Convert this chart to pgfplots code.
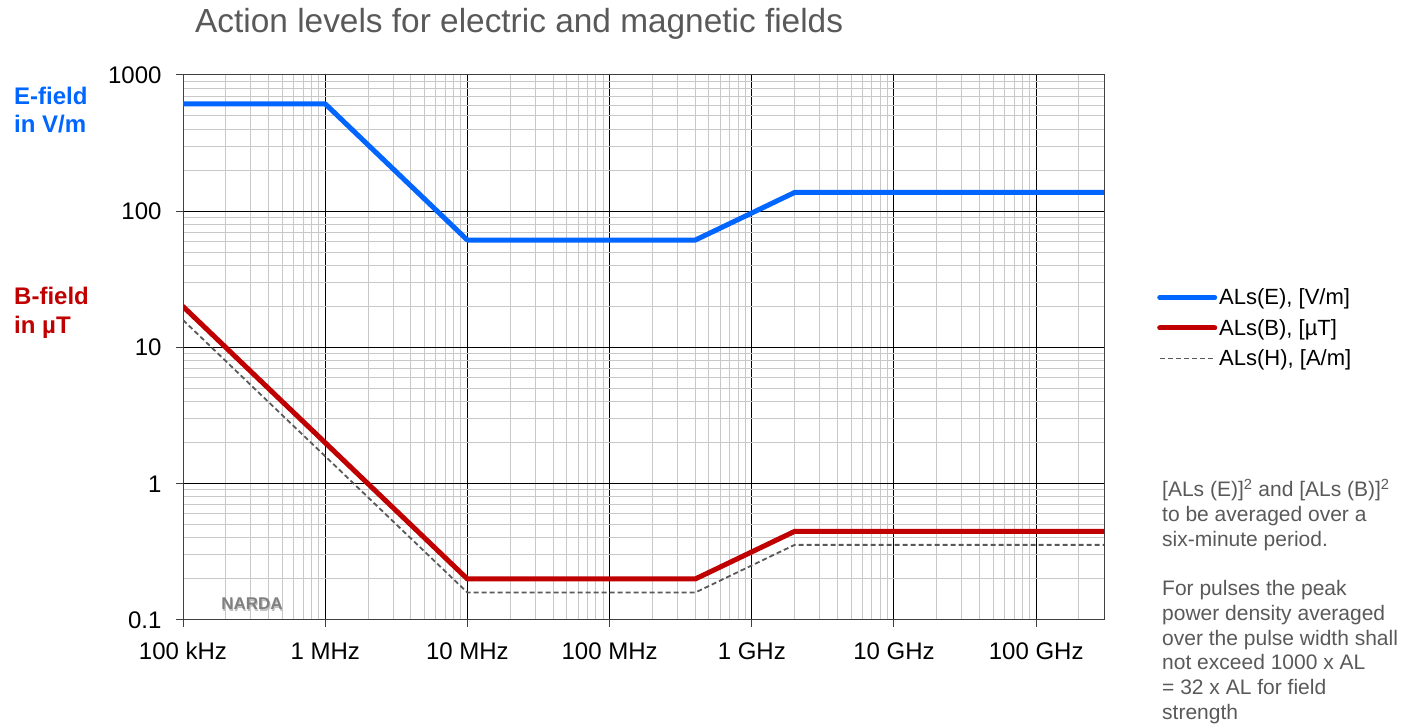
\documentclass[border=0pt]{standalone}
\usepackage{pgfplots}
\pgfplotsset{compat=1.18}
\usepackage{fontspec}
\setmainfont{Liberation Sans}
\definecolor{eblue}{RGB}{0,102,255}
\definecolor{bred}{RGB}{192,0,0}
\definecolor{txtgray}{RGB}{89,89,89}
\definecolor{mgrid}{RGB}{200,200,200}
\begin{document}
\begin{tikzpicture}[x=1bp,y=1bp]
\useasboundingbox (0,0) rectangle (1401,723);
\begin{axis}[
  at={(183bp,103bp)}, anchor=south west, scale only axis,
  width=921bp, height=545bp,
  xmode=log, ymode=log, xmin=1e5, xmax=3e11, ymin=0.1, ymax=1000,
  xtick={1e5,1e6,1e7,1e8,1e9,1e10,1e11},
  xticklabels={100 kHz,1 MHz,10 MHz,100 MHz,1 GHz,10 GHz,100 GHz},
  ytick={0.1,1,10,100,1000},
  yticklabels={0.1,1,10,100,1000},
  minor xtick={2e5,3e5,4e5,5e5,6e5,7e5,8e5,9e5,2e6,3e6,4e6,5e6,6e6,7e6,8e6,9e6,2e7,3e7,4e7,5e7,6e7,7e7,8e7,9e7,2e8,3e8,4e8,5e8,6e8,7e8,8e8,9e8,2e9,3e9,4e9,5e9,6e9,7e9,8e9,9e9,2e10,3e10,4e10,5e10,6e10,7e10,8e10,9e10,2e11},
  minor ytick={0.2,0.3,0.4,0.5,0.6,0.7,0.8,0.9,2,3,4,5,6,7,8,9,20,30,40,50,60,70,80,90,200,300,400,500,600,700,800,900},
  grid=both,
  major grid style={black, line width=1bp},
  minor grid style={mgrid, line width=1bp},
  tick align=outside, tick pos=left,
  major tick length=7bp, minor tick length=0pt,
  axis line style={black!75, line width=1bp},
  every tick/.style={black!75, line width=1bp},
  ticklabel style={font=\fontsize{24bp}{28bp}\selectfont, text=black},
  xticklabel style={yshift=-12bp},
  yticklabel style={xshift=-11bp},
  legend style={draw=none, fill=none, at={(1.0543,0.5358)}, anchor=west,
    font=\fontsize{22bp}{26bp}\selectfont, row sep=9bp},
  legend cell align=left,
  legend image code/.code={\draw[#1] (0bp,0bp) -- (55bp,0bp);},
]
\addplot[eblue, line width=5bp, line join=round, line cap=round] coordinates {
  (1e5,614) (1e6,614) (1e7,61.4) (4e8,61.4) (2e9,137.3) (3e11,137.3)};
\addlegendentry{ALs(E), [V/m]}
\addplot[bred, line width=5bp, line join=round, line cap=round] coordinates {
  (1e5,20) (1e6,2) (1e7,0.2) (4e8,0.2) (2e9,0.447) (3e11,0.447)};
\addlegendentry{ALs(B), [µT]}
\addplot[txtgray, line width=1.8bp, dash pattern=on 5bp off 3bp] coordinates {
  (1e5,15.9) (1e6,1.59) (1e7,0.159) (4e8,0.159) (2e9,0.356) (3e11,0.356)};
\addlegendentry{ALs(H), [A/m]}
\node[text=black!25, font=\bfseries\fontsize{17bp}{20bp}\selectfont] at (axis cs:3.1e5,0.128) {NARDA};
\node[text=black!50, font=\bfseries\fontsize{17bp}{20bp}\selectfont] at (axis cs:3.06e5,0.131) {NARDA};
\end{axis}
\node[anchor=base west, inner sep=0, text=txtgray, font=\fontsize{33.4bp}{38bp}\selectfont] at (195,690) {Action levels for electric and magnetic fields};
\begin{scope}[every node/.style={anchor=base west, inner sep=0, font=\bfseries\fontsize{24bp}{28bp}\selectfont}]
\node[text=eblue] at (14,618.5) {E-field};
\node[text=eblue] at (14,590.5) {in V/m};
\node[text=bred] at (14,418) {B-field};
\node[text=bred] at (14,389) {in µT};
\end{scope}
\begin{scope}[every node/.style={anchor=base west, inner sep=0, text=txtgray, font=\fontsize{21bp}{25bp}\selectfont}]
\node at (1162,226) {[ALs (E)]\textsuperscript{2} and [ALs (B)]\textsuperscript{2}};
\node at (1162,201.3) {to be averaged over a};
\node at (1162,176.6) {six-minute period.};
\node at (1162,127.2) {For pulses the peak};
\node at (1162,102.5) {power density averaged};
\node at (1162,77.8) {over the pulse width shall};
\node at (1162,53.1) {not exceed 1000 x AL};
\node at (1162,28.4) {= 32 x AL for field};
\node at (1162,3.7) {strength};
\end{scope}
\end{tikzpicture}
\end{document}
